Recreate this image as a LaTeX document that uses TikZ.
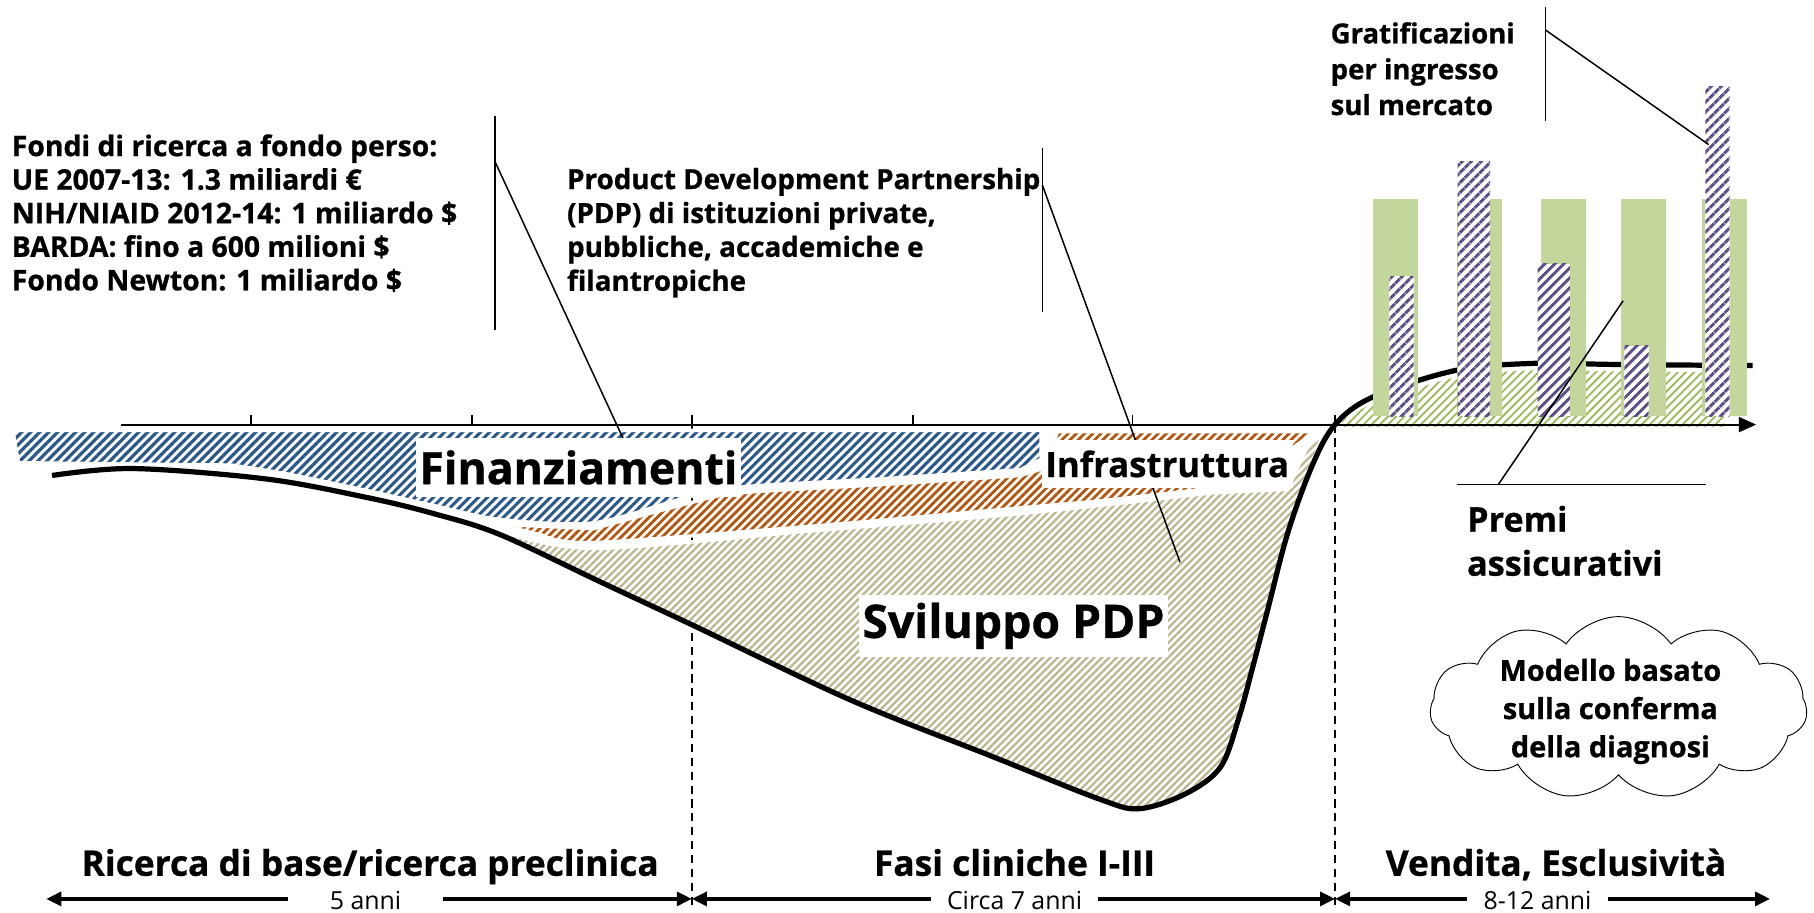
\documentclass[tikz,border=0pt]{standalone}
\usepackage{fontspec}
\setmainfont{Open Sans}[BoldFeatures={FakeBold=0.8}]
\usetikzlibrary{patterns.meta,shapes.symbols,arrows.meta}
\definecolor{hblue}{HTML}{2A578C}
\definecolor{horange}{HTML}{B3540F}
\definecolor{hkhaki}{HTML}{BDB690}
\definecolor{hpurple}{HTML}{625189}
\definecolor{hgreen}{HTML}{9BBB59}
\definecolor{bargreen}{HTML}{C3D69B}
\tikzset{
  band/.style={preaction={fill=white}, draw=white, line width=3pt},
  bluehatch/.style={band, pattern={Lines[angle=45,distance=5.5pt,line width=2.7pt]}, pattern color=hblue},
  orangehatch/.style={band, pattern={Lines[angle=45,distance=5pt,line width=2.4pt]}, pattern color=horange},
  khakihatch/.style={band, pattern={Lines[angle=45,distance=4.5pt,line width=2pt]}, pattern color=hkhaki},
  greenhatch/.style={preaction={fill=white}, pattern={Lines[angle=45,distance=5pt,line width=1.6pt]}, pattern color=hgreen},
  purplebar/.style={preaction={fill=white}, pattern={Lines[angle=45,distance=6.5pt,line width=3pt]}, pattern color=hpurple},
  greenbar/.style={fill=bargreen},
  callout/.style={line width=1.3pt, black},
  dashline/.style={line width=1.3pt, dash pattern=on 7pt off 5pt},
  barrow/.style={line width=3pt, {Triangle[length=13pt,width=12pt]}-{Triangle[length=13pt,width=12pt]}},
  axisline/.style={line width=1.8pt, -{Triangle[length=15pt,width=13pt]}},
  txt/.style={font=\bfseries\fontsize{24pt}{29.3pt}\selectfont, align=left, inner sep=0pt},
  biglabel/.style={fill=white, inner xsep=3pt, inner ysep=0pt, font=\bfseries\fontsize{#1}{#1}\selectfont},
  phase/.style={font=\bfseries\fontsize{30.5pt}{34pt}\selectfont, inner sep=0pt, anchor=base},
  yrs/.style={fill=white, font=\fontsize{21.5pt}{24pt}\selectfont, inner xsep=14pt, inner ysep=3pt}
}
\begin{document}
\begin{tikzpicture}[x=1pt,y=-1pt]
\useasboundingbox (0,0) rectangle (1568,789);

% dashed phase separators
\coordinate (d1t) at (598,367); \coordinate (d1b) at (598,786);
\coordinate (d2t) at (1154,367); \coordinate (d2b) at (1154,786);
\draw[dashline] (d1t) -- (d1b);
\draw[dashline] (d2t) -- (d2b);

% khaki band (Sviluppo PDP)
\path[khakihatch] (340,441) -- plot[smooth] coordinates {(432,459) (513,474) (700,459) (882,444) (1048,426)} -- (1113,423) -- (1130,386) -- (1143,376)
  -- plot[smooth] coordinates {(1143,376) (1134,403) (1113,461) (1095,530) (1083,576) (1071,620) (1055,663) (1025,686) (985,699) (951,691) (858,654) (735,605) (598,540) (519,503) (432,462) (375,444)} -- cycle;
% orange band (Infrastruttura)
\path[orangehatch] (430,453) -- plot[smooth] coordinates {(513,457) (595,435) (640,426) (760,419) (882,411)} -- (905,404) -- (914,373) -- (1138,373) -- (1113,390) -- (1048,422)
  -- plot[smooth] coordinates {(1048,422) (960,432) (882,439) (700,455) (513,469) (470,463)} -- cycle;
% blue band (Finanziamenti)
\path[bluehatch] (11,372) -- (900,372) -- (900,397) -- plot[smooth] coordinates {(882,406) (760,414) (640,421) (590,431) (513,452) (432,449) (375,437) (317,424) (250,410) (200,402)} -- (16,400) -- cycle;

% green hatched area (right)
\path[greenhatch] (1160,369) -- plot[smooth] coordinates {(1160,364) (1187,349) (1259,326) (1328,320) (1394,321) (1490,322)} -- (1490,369) -- cycle;

% main curve
\draw[line width=4.5pt] plot[smooth, tension=0.55] coordinates {(45,411) (115,405) (230,414) (317,430) (375,444) (432,462) (519,503) (598,540) (735,605) (858,654) (951,691) (985,699) (1025,686) (1055,663) (1071,620) (1083,576) (1095,530) (1113,461) (1134,403) (1154,367) (1187,343) (1259,320) (1328,314) (1394,315) (1515,316)};

% axis
\coordinate (ax0) at (105,367); \coordinate (ax1) at (1518,367);
\draw[axisline] (ax0) -- (ax1);
\foreach \x in {217,408,598,789,979,1154} \draw[line width=1.5pt] (\x,359) -- (\x,367);

% bars
\fill[greenbar] (1187,172) rectangle (1226,360);
\fill[greenbar] (1259,172) rectangle (1298,360);
\fill[greenbar] (1332,172) rectangle (1371,360);
\fill[greenbar] (1401,172) rectangle (1440,360);
\fill[greenbar] (1471,172) rectangle (1510,360);
\path[purplebar] (1201,239) rectangle (1222,360);
\path[purplebar] (1260,140) rectangle (1288,360);
\path[purplebar] (1329,228) rectangle (1357,360);
\path[purplebar] (1404,299) rectangle (1425,360);
\path[purplebar] (1474,75) rectangle (1495,360);

% callouts
\coordinate (c1a) at (428,100); \coordinate (c1b) at (428,285); \coordinate (c1k) at (428,140); \coordinate (c1e) at (546,395);
\draw[callout] (c1a) -- (c1b); \draw[callout] (c1k) -- (c1e);
\coordinate (c2a) at (901,128); \coordinate (c2b) at (901,270); \coordinate (c2k) at (901,160); \coordinate (c2e) at (1020,486);
\draw[callout] (c2a) -- (c2b); \draw[callout] (c2k) -- (c2e);
\coordinate (c3a) at (1336,6); \coordinate (c3b) at (1336,105); \coordinate (c3k) at (1336,26); \coordinate (c3e) at (1477,125);
\draw[callout] (c3a) -- (c3b); \draw[callout] (c3k) -- (c3e);
\coordinate (c4a) at (1259,419); \coordinate (c4b) at (1475,419); \coordinate (c4k) at (1295,419); \coordinate (c4e) at (1403,260);
\draw[callout] (c4a) -- (c4b); \draw[callout] (c4k) -- (c4e);

% labels inside chart
\node[biglabel=38.5pt, minimum height=51pt] (fin) at (500,404) {Finanziamenti};
\node[biglabel=30pt, minimum height=41pt] (inf) at (1009,401) {Infrastruttura};
\node[biglabel=40pt, minimum height=53pt] (svi) at (876,541) {Sviluppo PDP};

% text blocks
\node[txt, anchor=north west, font=\bfseries\fontsize{24.5pt}{29pt}\selectfont] (fondi) at (10,116) {Fondi di ricerca a fondo perso:\\UE 2007-13: 1.3 miliardi €\\NIH/NIAID 2012-14: 1 miliardo \$\\BARDA: fino a 600 milioni \$\\Fondo Newton: 1 miliardo \$};
\node[txt, anchor=north west] (pdp) at (490,145) {Product Development Partnership\\(PDP) di istituzioni private,\\pubbliche, accademiche e\\filantropiche};
\node[txt, anchor=north west, font=\bfseries\fontsize{23.8pt}{31pt}\selectfont] (grat) at (1150,19) {Gratificazioni\\per ingresso\\sul mercato};
\node[txt, anchor=north west, font=\bfseries\fontsize{29.5pt}{38pt}\selectfont] (premi) at (1268,437) {Premi\\assicurativi};

% cloud
\node[cloud, draw, line width=0.8pt, cloud puffs=11, cloud puff arc=110, aspect=2, minimum width=326pt, minimum height=158pt, inner sep=0pt] (cloud) at (1399,612) {};
\node[align=center, inner sep=0pt, font=\bfseries\fontsize{25pt}{33pt}\selectfont] (cloudtxt) at (1392,615) {Modello basato\\sulla conferma\\della diagnosi};

% phases
\node[phase] (ph1) at (320,757) {Ricerca di base/ricerca preclinica};
\node[phase] (ph2) at (877,757) {Fasi cliniche I-III};
\node[phase] (ph3) at (1345,757) {Vendita, Esclusività};

% duration arrows
\coordinate (a0) at (40,777); \coordinate (a1) at (598,777); \coordinate (a2) at (1154,777); \coordinate (a3) at (1530,777);
\draw[barrow] (a0) -- (a1);
\draw[barrow] (a1) -- (a2);
\draw[barrow] (a2) -- (a3);
\node[yrs, inner xsep=36pt] (y1) at (316,778) {5 anni};
\node[yrs] (y2) at (877,778) {Circa 7 anni};
\node[yrs] (y3) at (1329,778) {8-12 anni};
\end{tikzpicture}
\end{document}
